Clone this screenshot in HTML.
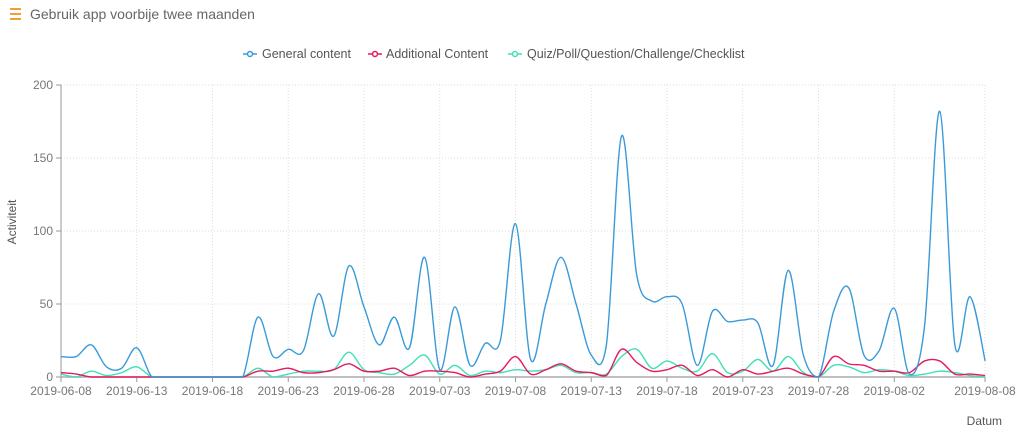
<!DOCTYPE html><html><head><meta charset="utf-8"><style>
body{margin:0;background:#fff;width:1024px;height:439px;overflow:hidden;font-family:"Liberation Sans",sans-serif}
text{font-family:"Liberation Sans",sans-serif}
</style></head><body>
<svg id="s" width="1024" height="439" xmlns="http://www.w3.org/2000/svg">
<g fill="#f0a030"><rect x="10" y="8" width="11" height="2"/><rect x="10" y="13" width="11" height="2"/><rect x="10" y="18" width="11" height="2"/></g>
<text x="30" y="19" font-size="14" fill="#666">Gebruik app voorbije twee maanden</text>
<g font-size="12.5" fill="#555">
<line x1="243" y1="54" x2="257" y2="54" stroke="#3a9ad9" stroke-width="1.5"/><circle cx="250" cy="54" r="2.5" fill="#fff" stroke="#3a9ad9" stroke-width="1.5"/><text x="262" y="58">General content</text>
<line x1="368" y1="54" x2="382" y2="54" stroke="#e8185e" stroke-width="1.5"/><circle cx="375" cy="54" r="2.5" fill="#fff" stroke="#e8185e" stroke-width="1.5"/><text x="386" y="58">Additional Content</text>
<line x1="508" y1="54" x2="522" y2="54" stroke="#3ee0b8" stroke-width="1.5"/><circle cx="515" cy="54" r="2.5" fill="#fff" stroke="#3ee0b8" stroke-width="1.5"/><text x="527" y="58">Quiz/Poll/Question/Challenge/Checklist</text>
</g>
<text transform="translate(16,222) rotate(-90)" text-anchor="middle" font-size="12" fill="#555">Activiteit</text>
<text x="1002" y="425" text-anchor="end" font-size="12" fill="#555">Datum</text>
<g id="grid"></g><g id="lines"></g>
</svg>
<script>
const s=document.getElementById('grid'),L=document.getElementById('lines'),NS='http://www.w3.org/2000/svg';
const x0=61,dx=15.15,y0=377,ky=1.46;
function el(t,a,p){const e=document.createElementNS(NS,t);for(const k in a)e.setAttribute(k,a[k]);if(a.txt)e.textContent=a.txt;(p||s).appendChild(e);return e}
for(let v=0;v<=200;v+=50){const y=y0-v*ky;if(v>0)el('line',{x1:x0,x2:985,y1:y,y2:y,stroke:'#ddd','stroke-dasharray':'1,2'});
el('line',{x1:x0-5,x2:x0,y1:y,y2:y,stroke:'#999'});el('text',{x:x0-8,y:y+4,'text-anchor':'end','font-size':12,fill:'#777',txt:String(v)})}
const labs=['2019-06-08','2019-06-13','2019-06-18','2019-06-23','2019-06-28','2019-07-03','2019-07-08','2019-07-13','2019-07-18','2019-07-23','2019-07-28','2019-08-02'];
labs.forEach((l,i)=>{const x=x0+i*5*dx;if(i>0)el('line',{x1:x,x2:x,y1:85,y2:y0,stroke:'#ddd','stroke-dasharray':'1,2'});el('line',{x1:x,x2:x,y1:y0,y2:y0+5,stroke:'#999'});el('text',{x:x,y:y0+18,'text-anchor':'middle','font-size':12,fill:'#777',txt:l})});
el('line',{x1:985,x2:985,y1:85,y2:y0,stroke:'#ddd','stroke-dasharray':'1,2'});
el('line',{x1:985,x2:985,y1:y0,y2:y0+5,stroke:'#999'});el('text',{x:985,y:y0+18,'text-anchor':'middle','font-size':12,fill:'#777',txt:'2019-08-08'});
el('line',{x1:x0,x2:x0,y1:85,y2:y0,stroke:'#999'});el('line',{x1:x0,x2:985,y1:y0,y2:y0,stroke:'#aaa','stroke-width':1.5});
const G=[14,14,22,7,6,20,0,0,0,0,0,0,0,41,14,19,18,57,28,76,48,22,41,20,82,5,48,8,23,25,105,12,50,82,50,15,22,165,70,52,55,50,8,45,38,39,37,8,73,15,0,45,61,15,18,47,2,35,182,22,55,11];
const A=[3,2,0,0,0,0,0,0,0,0,0,0,0,4,4,6,3,3,5,9,4,4,6,1,4,4,3,0,2,4,14,2,5,9,4,3,1,19,10,4,5,8,1,5,0,5,2,4,6,2,0,14,9,8,4,4,3,11,11,2,2,1];
const Q=[2,0,4,1,3,7,0,0,0,0,0,0,0,6,0,2,4,4,5,17,5,3,2,8,15,2,8,1,4,3,5,4,5,8,3,3,2,14,19,6,11,6,4,16,3,4,12,4,14,3,0,8,7,3,5,4,1,2,4,3,1,0];
function path(d){const p=d.map((v,i)=>[x0+i*dx,y0-v*ky]);let s='M'+p[0];for(let i=0;i<p.length-1;i++){const a=p[i-1]||p[i],b=p[i],c=p[i+1],e=p[i+2]||c;
const c1=[b[0]+(c[0]-a[0])/6,b[1]+(c[1]-a[1])/6],c2=[c[0]-(e[0]-b[0])/6,c[1]-(e[1]-b[1])/6];
c1[1]=Math.min(c1[1],y0);c2[1]=Math.min(c2[1],y0);s+='C'+c1+' '+c2+' '+c}return s}
[[Q,'#3ee0b8'],[A,'#e8185e'],[G,'#3a9ad9']].forEach(([d,c])=>el('path',{d:path(d),fill:'none',stroke:c,'stroke-width':1.4},L));
</script></body></html>
